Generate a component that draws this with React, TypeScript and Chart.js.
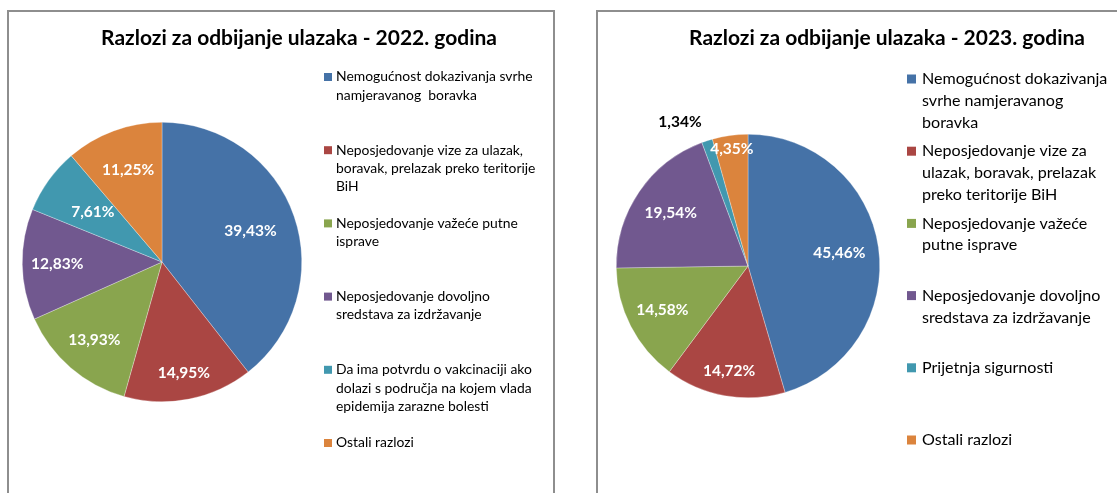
import React, { useEffect, useRef } from "react";
import { Chart, registerables } from "chart.js";

Chart.register(...registerables);

// ---------- DATA ----------
const title2022 = "Razlozi za odbijanje ulazaka - 2022. godina";
const categories2022: string[][] = [
  ["Nemogućnost dokazivanja svrhe", "namjeravanog  boravka"],
  ["Neposjedovanje vize za ulazak,", "boravak, prelazak preko teritorije", "BiH"],
  ["Neposjedovanje važeće putne", "isprave"],
  ["Neposjedovanje dovoljno", "sredstava za izdržavanje"],
  ["Da ima potvrdu o vakcinaciji ako", "dolazi s područja na kojem vlada", "epidemija zarazne bolesti"],
  ["Ostali razlozi"],
];
const values2022 = [39.43, 14.95, 13.93, 12.83, 7.61, 11.25];

const title2023 = "Razlozi za odbijanje ulazaka - 2023. godina";
const categories2023: string[][] = [
  ["Nemogućnost dokazivanja", "svrhe namjeravanog", "boravka"],
  ["Neposjedovanje vize za", "ulazak, boravak, prelazak", "preko teritorije BiH"],
  ["Neposjedovanje važeće", "putne isprave"],
  ["Neposjedovanje dovoljno", "sredstava za izdržavanje"],
  ["Prijetnja sigurnosti"],
  ["Ostali razlozi"],
];
const values2023 = [45.46, 14.72, 14.58, 19.54, 1.34, 4.35];

const sliceColors = ["#4572A7", "#AA4643", "#89A54E", "#71588F", "#4198AF", "#DB843D"];

// ---------- STYLE / LAYOUT (not data) ----------
type PanelCfg = {
  title: string;
  categories: string[][];
  values: number[];
  width: number;
  height: number;
  padding: { left: number; right: number; top: number; bottom: number };
  titleX: number;
  titleY: number;
  titleWidth: number;
  legendSquareX: number;
  legendSquare: number;
  legendTextX: number;
  legendFirstY: number;
  legendStep: number;
  legendLineH: number;
  legendFont: number;
  labelFrac: number[];
  labelShiftX: number[];
  labelOutside: boolean[];
};

const FONT = "Lato, 'Open Sans', 'DejaVu Sans', sans-serif";

const fmt = (v: number) => v.toFixed(2).replace(".", ",") + "%";

const overlayPlugin = {
  id: "overlay",
  afterDraw(chart: any, _args: any, opts: any) {
    const cfg: PanelCfg = opts.cfg;
    if (!cfg) return;
    const ctx: CanvasRenderingContext2D = chart.ctx;
    ctx.save();

    // Title (fit width)
    let fs = 18;
    ctx.font = `bold ${fs}px ${FONT}`;
    const w = ctx.measureText(cfg.title).width;
    fs = fs * (cfg.titleWidth / w);
    ctx.font = `bold ${fs}px ${FONT}`;
    ctx.fillStyle = "#000";
    ctx.textAlign = "center";
    ctx.textBaseline = "middle";
    ctx.fillText(cfg.title, cfg.titleX, cfg.titleY);

    // Legend
    const labels: string[][] = chart.data.labels;
    const bg: string[] = chart.data.datasets[0].backgroundColor;
    ctx.textAlign = "left";
    ctx.textBaseline = "middle";
    ctx.font = `${cfg.legendFont}px ${FONT}`;
    labels.forEach((lines, i) => {
      const y0 = cfg.legendFirstY + i * cfg.legendStep;
      ctx.fillStyle = bg[i];
      ctx.fillRect(cfg.legendSquareX, y0 - cfg.legendSquare / 2, cfg.legendSquare, cfg.legendSquare);
      ctx.fillStyle = "#000";
      lines.forEach((ln, j) => {
        ctx.fillText(ln, cfg.legendTextX, y0 + j * cfg.legendLineH);
      });
    });

    // Slice labels
    const meta = chart.getDatasetMeta(0);
    const vals: number[] = chart.data.datasets[0].data;
    ctx.textAlign = "center";
    ctx.font = `bold 15.5px ${FONT}`;
    meta.data.forEach((arc: any, i: number) => {
      const mid = (arc.startAngle + arc.endAngle) / 2;
      const r = arc.outerRadius * cfg.labelFrac[i];
      const x = arc.x + Math.cos(mid) * r + cfg.labelShiftX[i];
      const y = arc.y + Math.sin(mid) * r;
      ctx.fillStyle = cfg.labelOutside[i] ? "#000" : "#fff";
      ctx.fillText(fmt(vals[i]), x, y);
    });
    ctx.restore();
  },
};

function PiePanel({ cfg }: { cfg: PanelCfg }) {
  const ref = useRef<HTMLCanvasElement>(null);
  useEffect(() => {
    if (!ref.current) return;
    const chart = new Chart(ref.current, {
      type: "pie",
      data: {
        labels: cfg.categories as any,
        datasets: [
          {
            data: cfg.values,
            backgroundColor: sliceColors,
            borderColor: "rgba(255,255,255,0.6)",
            borderWidth: 0.5,
            hoverOffset: 0,
          },
        ],
      },
      options: {
        animation: false,
        responsive: false,
        events: [],
        layout: { padding: cfg.padding },
        plugins: {
          legend: { display: false },
          title: { display: false },
          tooltip: { enabled: false },
          overlay: { cfg },
        } as any,
      },
      plugins: [overlayPlugin],
    });
    return () => chart.destroy();
  }, [cfg]);
  return <canvas ref={ref} width={cfg.width} height={cfg.height} style={{ display: "block" }} />;
}

const leftCfg: PanelCfg = {
  title: title2022,
  categories: categories2022,
  values: values2022,
  width: 544,
  height: 481,
  padding: { left: 13, top: 110, right: 251, bottom: 91 },
  titleX: 290,
  titleY: 26,
  titleWidth: 396,
  legendSquareX: 315,
  legendSquare: 8,
  legendTextX: 327,
  legendFirstY: 65,
  legendStep: 73.2,
  legendLineH: 18.3,
  legendFont: 13.9,
  labelFrac: [0.67, 0.81, 0.74, 0.75, 0.61, 0.7],
  labelShiftX: [0, 0, 0, 0, 0, 0],
  labelOutside: [false, false, false, false, false, false],
};

const rightCfg: PanelCfg = {
  title: title2023,
  categories: categories2023,
  values: values2023,
  width: 519,
  height: 481,
  padding: { left: 18, top: 122, right: 237, bottom: 95 },
  titleX: 289,
  titleY: 26,
  titleWidth: 396,
  legendSquareX: 309,
  legendSquare: 9,
  legendTextX: 324,
  legendFirstY: 67,
  legendStep: 72.2,
  legendLineH: 21.7,
  legendFont: 16.1,
  labelFrac: [0.7, 0.81, 0.73, 0.71, 1.15, 0.9],
  labelShiftX: [0, 0, 0, 0, -21, 0],
  labelOutside: [false, false, false, false, true, false],
};

export default function App() {
  const box = (left: number, width: number): React.CSSProperties => ({
    position: "absolute",
    left,
    top: 10,
    width,
    height: 520,
    border: "2px solid #8e8e8e",
    boxSizing: "border-box",
    background: "#fff",
  });
  return (
    <div
      style={{
        position: "absolute",
        left: 0,
        top: 0,
        width: 1117,
        height: 493,
        overflow: "hidden",
        background: "#fff",
      }}
    >
      <div style={box(7, 548)}>
        <div style={{ position: "absolute", left: 0, top: 0 }}>
          <PiePanel cfg={leftCfg} />
        </div>
      </div>
      <div style={box(596, 560)}>
        <div style={{ position: "absolute", left: 0, top: 0 }}>
          <PiePanel cfg={rightCfg} />
        </div>
      </div>
    </div>
  );
}
